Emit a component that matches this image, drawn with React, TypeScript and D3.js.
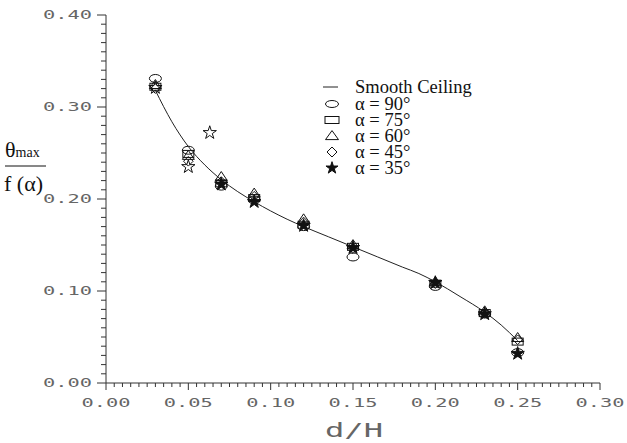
import React from "react";
import * as d3 from "d3";

const xValues = [0.03, 0.05, 0.07, 0.09, 0.12, 0.15, 0.2, 0.23, 0.25];
const alpha90 = [0.331, 0.253, 0.214, 0.199, 0.17, 0.137, 0.105, 0.075, 0.033];
const alpha75 = [0.322, 0.249, 0.217, 0.201, 0.172, 0.148, 0.108, 0.076, 0.045];
const alpha60 = [0.324, 0.247, 0.224, 0.206, 0.178, 0.15, 0.11, 0.078, 0.049];
const alpha45 = [0.32, 0.241, 0.219, 0.203, 0.175, 0.146, 0.108, 0.076, 0.047];
const alpha35 = [0.321, 0.235, 0.216, 0.197, 0.171, 0.147, 0.109, 0.075, 0.032];
const outlierX = [0.063];
const outlierY = [0.272];

const curveX = [0.03, 0.04, 0.05, 0.06, 0.07, 0.08, 0.09, 0.1, 0.11, 0.12, 0.135, 0.15, 0.165, 0.18, 0.19, 0.2, 0.215, 0.23, 0.24, 0.25];
const curveY = [0.318, 0.284, 0.257, 0.237, 0.221, 0.208, 0.197, 0.187, 0.178, 0.17, 0.159, 0.148, 0.137, 0.126, 0.119, 0.11, 0.094, 0.077, 0.063, 0.046];

const xTickLabels = ["0.00", "0.05", "0.10", "0.15", "0.20", "0.25", "0.30"];
const yTickLabels = ["0.00", "0.10", "0.20", "0.30", "0.40"];
const legendLabels = ["α = 90°", "α = 75°", "α = 60°", "α = 45°", "α = 35°"];

const W = 627;
const H = 443;

export default function App() {
  const x = d3.scaleLinear().domain([0, 0.3]).range([106, 600]);
  const y = d3.scaleLinear().domain([0, 0.4]).range([383, 15]);

  const line = d3
    .line<number>()
    .x((_, i) => x(curveX[i]))
    .y((d) => y(d))
    .curve(d3.curveMonotoneX);

  const starPath = d3.symbol().type(d3.symbolStar).size(55)() as string;
  const starLegend = d3.symbol().type(d3.symbolStar).size(45)() as string;

  const xMajor = xTickLabels.map((t) => +t);
  const yMajor = yTickLabels.map((t) => +t);
  const xMinor = d3.range(0, 61).map((i) => i * 0.005).filter((_, i) => i % 10 !== 0);
  const yMinor = d3.range(0, 41).map((i) => i * 0.01).filter((_, i) => i % 10 !== 0);

  const tickFont = { fontFamily: "'DejaVu Sans Mono', monospace" };
  const serif = { fontFamily: "'Liberation Serif', 'Times New Roman', Times, 'DejaVu Serif', serif" };
  const axisColor = "#333";
  const labelColor = "#666";

  const ellipse = (cx: number, cy: number, key: string, rx = 6, ry = 4) => (
    <ellipse key={key} cx={cx} cy={cy} rx={rx} ry={ry} fill="none" stroke="#111" strokeWidth={1} />
  );
  const rect = (cx: number, cy: number, key: string, w = 11, h = 7) => (
    <rect key={key} x={cx - w / 2} y={cy - h / 2} width={w} height={h} fill="none" stroke="#111" strokeWidth={1} />
  );
  const tri = (cx: number, cy: number, key: string, w = 12, h = 9) => (
    <path key={key} d={`M${cx},${cy - h * 0.6}L${cx + w / 2},${cy + h * 0.4}L${cx - w / 2},${cy + h * 0.4}Z`} fill="none" stroke="#111" strokeWidth={1} />
  );
  const diamond = (cx: number, cy: number, key: string, r = 4.8) => (
    <path key={key} d={`M${cx},${cy - r}L${cx + r},${cy}L${cx},${cy + r}L${cx - r},${cy}Z`} fill="none" stroke="#111" strokeWidth={1} />
  );
  const star = (cx: number, cy: number, key: string, filled: boolean, p = starPath) => (
    <path key={key} d={p} transform={`translate(${cx},${cy})`} fill={filled ? "#111" : "none"} stroke="#111" strokeWidth={1} />
  );

  const legendY = [104, 120, 136, 152, 168];

  return (
    <svg width={W} height={H} style={{ display: "block", position: "absolute", left: 0, top: 0, background: "#fff" }}>
      <rect x={0} y={0} width={W} height={H} fill="#fff" />
      {/* axes */}
      <line x1={106} y1={15} x2={106} y2={383} stroke={axisColor} strokeWidth={1} />
      <line x1={106} y1={383} x2={600} y2={383} stroke={axisColor} strokeWidth={1} />
      {yMajor.map((v, i) => (
        <g key={"ym" + i}>
          <line x1={97} x2={106} y1={y(v)} y2={y(v)} stroke={axisColor} />
          <text
            x={92}
            y={y(v) + 4}
            textAnchor="end"
            style={tickFont}
            fontSize={11.5}
            fill={labelColor}
            textLength={49}
            lengthAdjust="spacingAndGlyphs"
          >
            {yTickLabels[i]}
          </text>
        </g>
      ))}
      {yMinor.map((v, i) => (
        <line key={"yn" + i} x1={101} x2={106} y1={y(v)} y2={y(v)} stroke={axisColor} />
      ))}
      {xMajor.map((v, i) => (
        <g key={"xm" + i}>
          <line x1={x(v)} x2={x(v)} y1={383} y2={390} stroke={axisColor} />
          <text
            x={x(v)}
            y={407}
            textAnchor="middle"
            style={tickFont}
            fontSize={11.5}
            fill={labelColor}
            textLength={49}
            lengthAdjust="spacingAndGlyphs"
          >
            {xTickLabels[i]}
          </text>
        </g>
      ))}
      {xMinor.map((v, i) => (
        <line key={"xn" + i} x1={x(v)} x2={x(v)} y1={383} y2={387} stroke={axisColor} />
      ))}
      {/* axis titles */}
      <text x={354} y={437} textAnchor="middle" style={tickFont} fontSize={19} fill={labelColor} textLength={58} lengthAdjust="spacingAndGlyphs">
        d/H
      </text>
      <text x={5} y={157} style={serif} fontSize={22} fill="#111">
        θ<tspan fontSize={14}>max</tspan>
      </text>
      <line x1={5} x2={46} y1={166} y2={166} stroke="#111" strokeWidth={1} />
      <text x={4} y={191} style={serif} fontSize={22} fill="#111">
        f (α)
      </text>
      {/* curve */}
      <path d={line(curveY) as string} fill="none" stroke="#222" strokeWidth={1} />
      {/* markers */}
      {xValues.map((xv, i) => ellipse(x(xv), y(alpha90[i]), "c" + i))}
      {xValues.map((xv, i) => rect(x(xv), y(alpha75[i]), "s" + i))}
      {xValues.map((xv, i) => tri(x(xv), y(alpha60[i]), "t" + i))}
      {xValues.map((xv, i) => diamond(x(xv), y(alpha45[i]), "d" + i))}
      {xValues.map((xv, i) => star(x(xv), y(alpha35[i]), "st" + i, i >= 2))}
      {outlierX.map((xv, i) => star(x(xv), y(outlierY[i]), "o" + i, false))}
      {/* legend */}
      <line x1={323} x2={338} y1={87} y2={87} stroke="#222" />
      <text x={355} y={92.5} style={serif} fontSize={18.5} fill="#111">
        Smooth Ceiling
      </text>
      {ellipse(332, legendY[0], "lc", 6.5, 3.5)}
      {rect(332, legendY[1], "ls", 14, 7)}
      {tri(332, legendY[2], "lt", 13, 9)}
      {diamond(332, legendY[3], "ld", 5)}
      {star(332, legendY[4], "lst", true, starLegend)}
      {legendLabels.map((t, i) => (
        <text key={"lg" + i} x={355} y={legendY[i] + 6} style={serif} fontSize={18.5} fill="#111">
          {t}
        </text>
      ))}
    </svg>
  );
}
